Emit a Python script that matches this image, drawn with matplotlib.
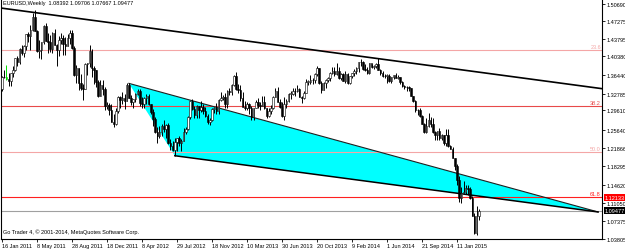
import matplotlib.pyplot as plt
from matplotlib.patches import Polygon

plt.rcParams['font.family'] = ['Liberation Sans', 'DejaVu Sans']

# weekly EURUSD bars, one value per week starting 16 Jan 2011
first_open = 1.3380

closes_2011 = [1.3610, 1.3620, 1.3580, 1.3540, 1.3690, 1.3750, 1.3990, 1.3910, 1.4180, 1.4090,
               1.4230, 1.4470, 1.4430, 1.4560, 1.4810, 1.4540, 1.4130, 1.4160, 1.4320, 1.4640,
               1.4340, 1.4310, 1.4180, 1.4500, 1.4260, 1.4150, 1.4360, 1.4400, 1.4280, 1.4240,
               1.4390, 1.4490, 1.4200, 1.3650, 1.3790, 1.3500, 1.3390, 1.3370, 1.3880, 1.3890,
               1.4140, 1.3790, 1.3750, 1.3520, 1.3240, 1.3450, 1.3380, 1.3040, 1.3050, 1.2960]
highs_2011 = [1.3630, 1.3760, 1.3860, 1.3700, 1.3700, 1.3830, 1.4000, 1.4040, 1.4200, 1.4250,
              1.4250, 1.4480, 1.4520, 1.4650, 1.4880, 1.4940, 1.4560, 1.4350, 1.4320, 1.4650,
              1.4700, 1.4490, 1.4450, 1.4510, 1.4580, 1.4280, 1.4440, 1.4500, 1.4450, 1.4420,
              1.4480, 1.4550, 1.4550, 1.4230, 1.3850, 1.3800, 1.3670, 1.3480, 1.3890, 1.3900,
              1.4250, 1.4170, 1.3840, 1.3750, 1.3560, 1.3550, 1.3550, 1.3420, 1.3120, 1.3100]
lows_2011 = [1.3340, 1.3590, 1.3560, 1.3430, 1.3440, 1.3620, 1.3740, 1.3830, 1.3870, 1.4050,
             1.4010, 1.4150, 1.4320, 1.4150, 1.4540, 1.4530, 1.4110, 1.4000, 1.3970, 1.4280,
             1.4330, 1.4100, 1.4120, 1.4100, 1.4250, 1.3840, 1.4030, 1.4270, 1.4060, 1.4050,
             1.4240, 1.4280, 1.4180, 1.3640, 1.3500, 1.3360, 1.3360, 1.3145, 1.3370, 1.3650,
             1.3810, 1.3610, 1.3480, 1.3420, 1.3210, 1.3240, 1.3260, 1.2950, 1.2980, 1.2860]

closes_2012 = [1.2720, 1.2680, 1.2930, 1.3210, 1.3160, 1.3200, 1.3140, 1.3450, 1.3200, 1.3120,
               1.3170, 1.3270, 1.3340, 1.3100, 1.3080, 1.3190, 1.3240, 1.3080, 1.2920, 1.2780,
               1.2520, 1.2430, 1.2520, 1.2640, 1.2570, 1.2660, 1.2290, 1.2240, 1.2160, 1.2320,
               1.2390, 1.2290, 1.2330, 1.2510, 1.2580, 1.2820, 1.3130, 1.2980, 1.2860, 1.3040,
               1.2950, 1.3020, 1.2940, 1.2830, 1.2710, 1.2750, 1.2980, 1.2990, 1.2930, 1.3160,
               1.3190, 1.3220, 1.3070]
highs_2012 = [1.3080, 1.2880, 1.2990, 1.3230, 1.3230, 1.3320, 1.3280, 1.3490, 1.3486, 1.3260,
              1.3180, 1.3290, 1.3380, 1.3380, 1.3210, 1.3220, 1.3270, 1.3280, 1.3080, 1.2980,
              1.2820, 1.2620, 1.2630, 1.2670, 1.2750, 1.2680, 1.2690, 1.2380, 1.2340, 1.2390,
              1.2400, 1.2440, 1.2380, 1.2590, 1.2620, 1.2830, 1.3140, 1.3170, 1.3030, 1.3050,
              1.3040, 1.3140, 1.3080, 1.3020, 1.2880, 1.2790, 1.2990, 1.3020, 1.3090, 1.3170,
              1.3310, 1.3260, 1.3300]
lows_2012 = [1.2710, 1.2624, 1.2660, 1.2900, 1.3000, 1.3080, 1.2970, 1.3130, 1.3190, 1.3050,
             1.3000, 1.3120, 1.3250, 1.3030, 1.3000, 1.2995, 1.3080, 1.3060, 1.2880, 1.2640,
             1.2500, 1.2290, 1.2400, 1.2440, 1.2520, 1.2400, 1.2280, 1.2160, 1.2140, 1.2042,
             1.2130, 1.2240, 1.2130, 1.2330, 1.2480, 1.2560, 1.2770, 1.2950, 1.2800, 1.2800,
             1.2800, 1.2910, 1.2880, 1.2820, 1.2680, 1.2660, 1.2740, 1.2900, 1.2880, 1.2880,
             1.3140, 1.3160, 1.3000]

closes_2013 = [1.3340, 1.3320, 1.3460, 1.3640, 1.3370, 1.3360, 1.3190, 1.3020, 1.3000, 1.3080,
               1.2990, 1.2820, 1.2990, 1.3110, 1.3050, 1.3030, 1.3110, 1.2990, 1.2830, 1.2930,
               1.2990, 1.3220, 1.3340, 1.3120, 1.3010, 1.2830, 1.3070, 1.3140, 1.3280, 1.3280,
               1.3340, 1.3330, 1.3380, 1.3220, 1.3190, 1.3300, 1.3520, 1.3520, 1.3560, 1.3550,
               1.3680, 1.3800, 1.3490, 1.3360, 1.3500, 1.3550, 1.3590, 1.3700, 1.3740, 1.3670,
               1.3740, 1.3590]
highs_2013 = [1.3350, 1.3400, 1.3480, 1.3650, 1.3710, 1.3480, 1.3460, 1.3320, 1.3140, 1.3110,
              1.3090, 1.3040, 1.3000, 1.3160, 1.3200, 1.3110, 1.3240, 1.3240, 1.3000, 1.2990,
              1.3060, 1.3240, 1.3390, 1.3420, 1.3180, 1.3110, 1.3210, 1.3180, 1.3300, 1.3340,
              1.3390, 1.3390, 1.3450, 1.3400, 1.3230, 1.3330, 1.3570, 1.3550, 1.3650, 1.3590,
              1.3700, 1.3830, 1.3800, 1.3530, 1.3520, 1.3580, 1.3620, 1.3710, 1.3810, 1.3810,
              1.3890, 1.3820]
lows_2013 = [1.3000, 1.3250, 1.3260, 1.3430, 1.3360, 1.3300, 1.3140, 1.3010, 1.2960, 1.2960,
             1.2870, 1.2750, 1.2750, 1.2990, 1.2990, 1.2950, 1.3030, 1.2980, 1.2800, 1.2810,
             1.2880, 1.2980, 1.3210, 1.3110, 1.3000, 1.2820, 1.2755, 1.3000, 1.3120, 1.3180,
             1.3260, 1.3230, 1.3310, 1.3210, 1.3100, 1.3180, 1.3290, 1.3460, 1.3480, 1.3480,
             1.3490, 1.3640, 1.3480, 1.3300, 1.3360, 1.3400, 1.3520, 1.3540, 1.3680, 1.3630,
             1.3650, 1.3580]

closes_2014 = [1.3670, 1.3540, 1.3680, 1.3490, 1.3630, 1.3690, 1.3740, 1.3800, 1.3910, 1.3910,
               1.3780, 1.3750, 1.3700, 1.3890, 1.3810, 1.3830, 1.3870, 1.3760, 1.3700, 1.3630,
               1.3640, 1.3640, 1.3540, 1.3610, 1.3650, 1.3600, 1.3610, 1.3520, 1.3430, 1.3420,
               1.3410, 1.3400, 1.3240, 1.3130, 1.2950, 1.2960, 1.2830, 1.2680, 1.2520, 1.2630,
               1.2760, 1.2670, 1.2520, 1.2450, 1.2530, 1.2390, 1.2450, 1.2290, 1.2460, 1.2230,
               1.2180, 1.2000]
highs_2014 = [1.3690, 1.3700, 1.3740, 1.3700, 1.3640, 1.3700, 1.3770, 1.3820, 1.3920, 1.3970,
              1.3930, 1.3880, 1.3810, 1.3900, 1.3870, 1.3850, 1.3890, 1.3993, 1.3770, 1.3730,
              1.3680, 1.3670, 1.3680, 1.3620, 1.3660, 1.3700, 1.3650, 1.3620, 1.3530, 1.3450,
              1.3440, 1.3440, 1.3400, 1.3230, 1.3160, 1.2980, 1.3000, 1.2860, 1.2700, 1.2790,
              1.2890, 1.2810, 1.2790, 1.2530, 1.2540, 1.2600, 1.2480, 1.2460, 1.2570, 1.2570,
              1.2260, 1.2220]
lows_2014 = [1.3560, 1.3530, 1.3500, 1.3480, 1.3480, 1.3590, 1.3640, 1.3680, 1.3720, 1.3830,
             1.3750, 1.3740, 1.3670, 1.3670, 1.3790, 1.3780, 1.3800, 1.3750, 1.3650, 1.3620,
             1.3590, 1.3503, 1.3520, 1.3500, 1.3570, 1.3590, 1.3570, 1.3480, 1.3420, 1.3370,
             1.3330, 1.3330, 1.3230, 1.3120, 1.2920, 1.2860, 1.2820, 1.2670, 1.2500, 1.2500,
             1.2610, 1.2620, 1.2490, 1.2360, 1.2360, 1.2350, 1.2360, 1.2250, 1.2240, 1.2220,
             1.2170, 1.1990]

closes_2015 = [1.1840, 1.1560, 1.1200, 1.1290, 1.1310, 1.1390, 1.1380, 1.1190, 1.0840, 1.0500,
               1.08392, 1.09477]
highs_2015 = [1.2000, 1.1870, 1.1640, 1.1420, 1.1530, 1.1450, 1.1450, 1.1420, 1.1240, 1.0890,
              1.1040, 1.09706]
lows_2015 = [1.1750, 1.1460, 1.1110, 1.1098, 1.1270, 1.1270, 1.1260, 1.1170, 1.0830, 1.0490,
             1.0458, 1.07667]

closes = closes_2011 + closes_2012 + closes_2013 + closes_2014 + closes_2015
highs = highs_2011 + highs_2012 + highs_2013 + highs_2014 + highs_2015
lows = lows_2011 + lows_2012 + lows_2013 + lows_2014 + lows_2015
opens = [first_open] + closes[:-1]
weeks = list(range(len(closes)))
green_bar = 2

# axis labels
xtick_weeks = [0, 16, 32, 48, 64, 80, 96, 112, 128, 144, 160, 176, 192, 208]
xtick_labels = ["16 Jan 2011", "8 May 2011", "28 Aug 2011", "18 Dec 2011", "8 Apr 2012",
                "29 Jul 2012", "18 Nov 2012", "10 Mar 2013", "30 Jun 2013", "20 Oct 2013",
                "9 Feb 2014", "1 Jun 2014", "21 Sep 2014", "11 Jan 2015"]
ytick_vals = [1.50690, 1.47275, 1.43795, 1.40380, 1.36440, 1.32785, 1.29610, 1.25640,
              1.21866, 1.18295, 1.14620, 1.11050, 1.07375, 1.03805]

# fibo levels and drawn objects
fib_names = ["23.6", "38.2", "50.0", "61.8"]
fib_levels = [1.4157, 1.3028, 1.2123, 1.12133]
fib_colors = ["#f4a6a6", "#e84a4a", "#f4a6a6", "#ff2020"]
long_line_weeks = [-0.7, 274.3]
long_line_prices = [1.4990, 1.3380]
tri_weeks = [58, 79, 272.5]
tri_prices = [1.3486, 1.2042, 1.0920]
bid = 1.09477

fs = 4.0
fig = plt.figure(figsize=(6.25, 2.51), dpi=100)
ax = fig.add_axes([0.5 / 625, 11 / 251, 601.5 / 625, 240 / 251])
ax.set_xlim(-0.69, 274.3)
ax.set_ylim(1.0381, 1.5169)

# triangle
ax.add_patch(Polygon(list(zip(tri_weeks, tri_prices)), closed=True, facecolor="#00ffff",
                     edgecolor="none", zorder=1))
ax.plot([tri_weeks[0], tri_weeks[2]], [tri_prices[0], tri_prices[2]], color="#202020", lw=0.8, zorder=2)
ax.plot([tri_weeks[1], tri_weeks[2]], [tri_prices[1], tri_prices[2]], color="black", lw=1.1, zorder=2)

# fibo
for name, lev, col in zip(fib_names, fib_levels, fib_colors):
    ax.axhline(lev, color=col, lw=0.8, zorder=1.5)
    ax.text(273.8, lev + 0.002, name, color=col, fontsize=fs, ha="right", va="bottom")
ax.axhline(bid, color="#a0a0a0", lw=0.8, zorder=1.5)

ax.plot(long_line_weeks, long_line_prices, color="black", lw=1.2, zorder=2)

# candles
for w, o, h, l, c in zip(weeks, opens, highs, lows, closes):
    col = "#00e000" if w == green_bar else "black"
    ax.vlines(w, l, h, color=col, lw=0.7, zorder=3)
    bottom = min(o, c)
    height = max(abs(c - o), 0.0006)
    face = "black" if c < o else "white"
    if w == green_bar:
        face = "#00e000"
    ax.bar(w, height, bottom=bottom, width=0.7, color=face, edgecolor=col, linewidth=0.4, zorder=4)

ax.text(0.004, 0.995, "EURUSD,Weekly  1.08392 1.09706 1.07667 1.09477", transform=ax.transAxes,
        fontsize=fs, va="top", ha="left")
ax.text(0.004, 0.02, "Go Trader 4, \u00a9 2001-2014, MetaQuotes Software Corp.", transform=ax.transAxes,
        fontsize=fs, va="bottom", ha="left")

ax.yaxis.tick_right()
ax.set_yticks(ytick_vals)
ax.set_yticklabels(["%.5f" % v for v in ytick_vals], fontsize=fs)
ax.set_xticks(xtick_weeks)
ax.set_xticklabels(xtick_labels, fontsize=fs, ha="left")
ax.tick_params(axis="both", length=2, width=0.6, pad=1)
ax.spines["top"].set_visible(False)
for s in ["left", "right", "bottom"]:
    ax.spines[s].set_linewidth(0.8)

yt = ax.get_yaxis_transform()
ax.text(1.004, 1.12133, "1.12133", transform=yt, fontsize=fs, color="white", va="center", ha="left",
        bbox=dict(boxstyle="square,pad=0.15", fc="#ff0000", ec="none"))
ax.text(1.004, bid, "1.09477", transform=yt, fontsize=fs, color="white", va="center", ha="left",
        bbox=dict(boxstyle="square,pad=0.15", fc="black", ec="none"))

fig.savefig("out.png", dpi=100)
